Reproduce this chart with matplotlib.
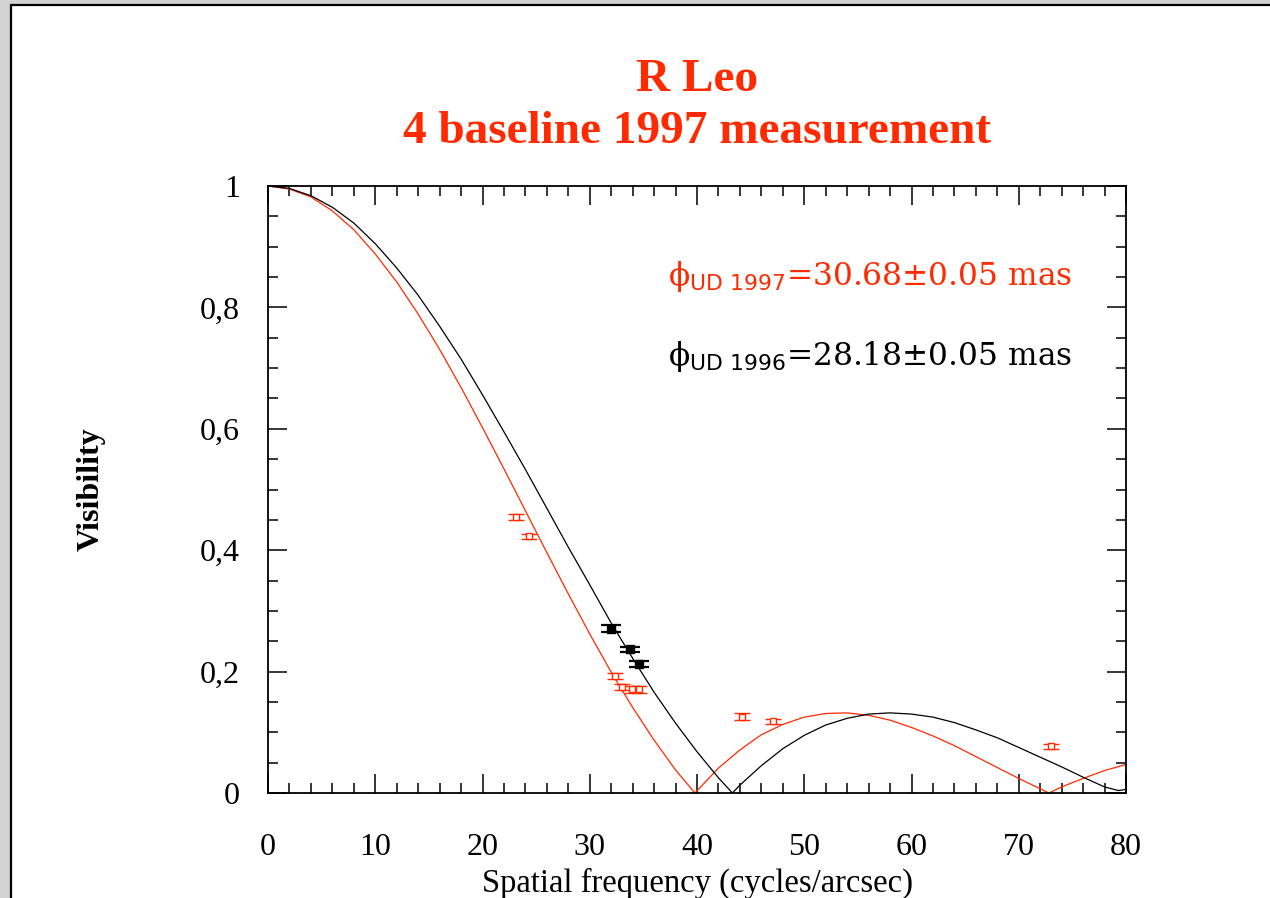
import numpy as np
import matplotlib.pyplot as plt
from matplotlib.patches import Rectangle

plt.rcParams['font.family'] = 'Liberation Serif'
plt.rcParams['mathtext.fontset'] = 'custom'
plt.rcParams['mathtext.rm'] = 'DejaVu Serif'
plt.rcParams['mathtext.sf'] = 'DejaVu Sans'

# uniform disk fits
u_1997 = [0, 2, 4, 6, 8, 10, 12, 14, 16, 18, 20, 22, 24, 26, 28, 30, 32, 34, 36, 38, 39.8,
          42, 44, 46, 48, 50, 52, 54, 56, 58, 60, 62, 64, 66, 68, 70, 72, 72.8, 74, 76, 78, 80]
v_1997 = [1.0, 0.995, 0.982, 0.959, 0.928, 0.888, 0.842, 0.789, 0.731, 0.668, 0.602, 0.534,
          0.465, 0.396, 0.328, 0.262, 0.199, 0.141, 0.087, 0.038, 0.0,
          0.041, 0.071, 0.096, 0.113, 0.125, 0.131, 0.132, 0.128, 0.120, 0.108, 0.094,
          0.078, 0.060, 0.042, 0.024, 0.007, 0.0, 0.010, 0.024, 0.037, 0.047]

u_1996 = [0, 2, 4, 6, 8, 10, 12, 14, 16, 18, 20, 22, 24, 26, 28, 30, 32, 34, 36, 38, 40, 42, 43.3,
          44, 46, 48, 50, 52, 54, 56, 58, 60, 62, 64, 66, 68, 70, 72, 74, 76, 78, 79.3, 80]
v_1996 = [1.0, 0.996, 0.984, 0.965, 0.939, 0.905, 0.865, 0.820, 0.769, 0.715, 0.656, 0.595,
          0.533, 0.469, 0.405, 0.343, 0.280, 0.222, 0.166, 0.115, 0.068, 0.025, 0.0,
          0.013, 0.045, 0.073, 0.095, 0.112, 0.123, 0.130, 0.132, 0.130, 0.125, 0.116,
          0.104, 0.091, 0.075, 0.059, 0.043, 0.026, 0.010, 0.004, 0.006]

# measurements
u_meas97 = [23.1, 24.3, 32.35, 33.0, 33.9, 34.6, 44.2, 47.1, 73.0]
v_meas97 = [0.455, 0.423, 0.193, 0.174, 0.171, 0.171, 0.126, 0.118, 0.077]
e_meas97 = [0.005, 0.004, 0.005, 0.005, 0.006, 0.006, 0.006, 0.004, 0.004]

u_meas96 = [31.95, 33.75, 34.62]
v_meas96 = [0.271, 0.237, 0.2125]
e_meas96 = [0.005, 0.004, 0.005]

red = '#ff2a00'

fig = plt.figure(figsize=(12.7, 8.98), dpi=100)
fig.patch.set_facecolor('#d2d2d2')
fig.patches.append(Rectangle((11/1270, -0.01), 1.0, 1 - 5/898 + 0.01, transform=fig.transFigure,
                             facecolor='white', edgecolor='black', linewidth=1.6, zorder=-5))

ax = fig.add_axes([268/1270, 1 - 793/898, (1126 - 268)/1270, (793 - 186)/898])
ax.set_zorder(2)
ax.patch.set_alpha(0)

ax.plot(u_1997, v_1997, color=red, lw=0.9)
ax.plot(u_1996, v_1996, color='black', lw=0.9)

ax.errorbar(u_meas97, v_meas97, yerr=e_meas97, fmt='s', ms=5, mfc='white', mec=red,
            mew=1.0, ecolor=red, elinewidth=1.0, capsize=6, capthick=1.2, zorder=5)
ax.errorbar(u_meas96, v_meas96, yerr=e_meas96, fmt='s', ms=6, mfc='black', mec='black',
            ecolor='black', elinewidth=1.0, capsize=7.5, capthick=1.6, zorder=5)

ax.set_xlim(0, 80)
ax.set_ylim(0, 1)
ax.set_xticks(np.arange(0, 81, 10))
ax.set_xticks(np.arange(0, 81, 2), minor=True)
ax.set_yticks([0, 0.2, 0.4, 0.6, 0.8, 1.0])
ax.set_yticklabels(['0', '0,2', '0,4', '0,6', '0,8', '1'])
ax.set_yticks(np.arange(0, 1.001, 0.05), minor=True)
ax.tick_params(which='both', direction='in', top=True, right=True, width=1.1)
ax.tick_params(which='major', length=14, labelsize=23)
ax.tick_params(which='minor', length=7.2)
ax.tick_params(axis='x', which='major', pad=29)
ax.tick_params(axis='y', which='major', pad=20)
for s in ax.spines.values():
    s.set_linewidth(1.3)

ax.set_xlabel('Spatial frequency (cycles/arcsec)', fontsize=23.5, labelpad=4)
ax.set_ylabel('Visibility', fontsize=23, fontweight='bold', labelpad=68)

ax.text(37.3, 0.837, r'ϕ$_{\mathsf{UD\ 1997}}$=30.68±0.05 mas', color=red,
        fontsize=22.5, family='DejaVu Serif', va='baseline')
ax.text(37.3, 0.705, r'ϕ$_{\mathsf{UD\ 1996}}$=28.18±0.05 mas', color='black',
        fontsize=22.5, family='DejaVu Serif', va='baseline')

fig.text(697/1270, 1 - 80/898, 'R Leo', color=red, fontsize=34, fontweight='bold',
         ha='center', va='center')
fig.text(697/1270, 1 - 132/898, '4 baseline 1997 measurement', color=red, fontsize=34,
         fontweight='bold', ha='center', va='center')

fig.savefig('out.png', dpi=100, facecolor=fig.get_facecolor())
